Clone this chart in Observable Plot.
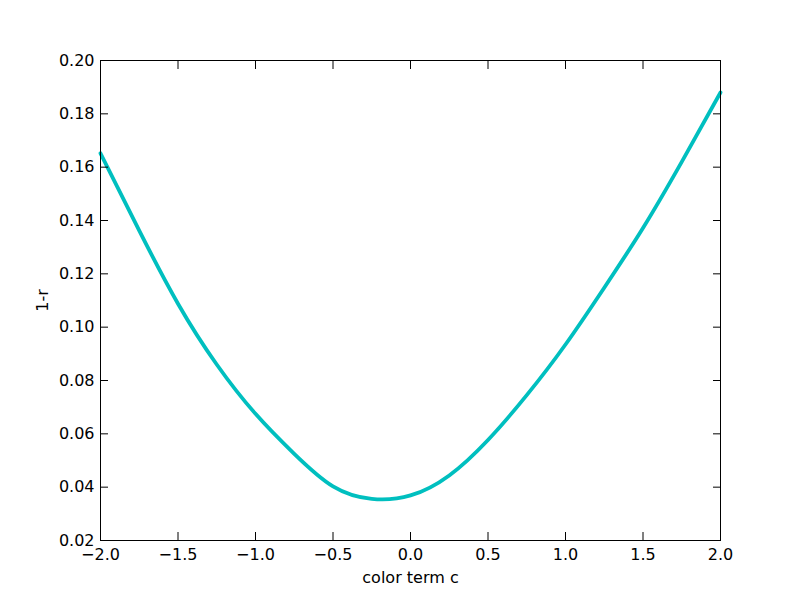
<!DOCTYPE html>
<html>
<head>
<meta charset="utf-8">
<script src="https://cdn.jsdelivr.net/npm/d3@7"></script>
<script src="https://cdn.jsdelivr.net/npm/@observablehq/plot@0.6"></script>
<style>
  html, body { margin: 0; padding: 0; background: #fff; }
  #chart { width: 800px; height: 600px; }
</style>
</head>
<body>
<div id="chart"></div>
<script>
// color term c values
const colorTerm = [-2.0, -1.75, -1.5, -1.25, -1.0, -0.75, -0.5, -0.25, 0.0, 0.25, 0.5, 0.75, 1.0, 1.25, 1.5, 1.75, 2.0];
// 1-r values
const oneMinusR = [0.1652, 0.1362, 0.1088, 0.0860, 0.0675, 0.0525, 0.0403, 0.0356, 0.0369, 0.0444, 0.0577, 0.0745, 0.0935, 0.1148, 0.1372, 0.1620, 0.1880];
const xTicks = [-2.0, -1.5, -1.0, -0.5, 0.0, 0.5, 1.0, 1.5, 2.0];
const yTicks = [0.02, 0.04, 0.06, 0.08, 0.10, 0.12, 0.14, 0.16, 0.18, 0.20];

const data = colorTerm.map((c, i) => ({c, r: oneMinusR[i]}));
const fmtX = d => d3.format(".1f")(d).replace("-", "\u2212");
const fmtY = d => d3.format(".2f")(d);
const blank = () => "";

const chart = Plot.plot({
  width: 800,
  height: 600,
  marginLeft: 100,
  marginRight: 80,
  marginTop: 60,
  marginBottom: 60,
  style: {fontFamily: "DejaVu Sans", fontSize: "16px", color: "#000", background: "#fff"},
  x: {domain: [-2, 2]},
  y: {domain: [0.02, 0.2]},
  marks: [
    Plot.line(data, {x: "c", y: "r", stroke: "#00BFBF", strokeWidth: 3.8, curve: "natural"}),
    Plot.frame({stroke: "#000", strokeWidth: 1}),
    // labels
    Plot.axisX({anchor: "bottom", ticks: xTicks, tickFormat: fmtX, tickSize: 0, tickPadding: 8,
      label: "color term c", labelAnchor: "center", labelArrow: "none", labelOffset: 42, fontSize: 16}),
    Plot.axisY({anchor: "left", ticks: yTicks, tickFormat: fmtY, tickSize: 0, tickPadding: 6,
      label: "1-r", labelAnchor: "center", labelArrow: "none", labelOffset: 64, fontSize: 16}),
    // inward ticks on all four sides
    Plot.axisX({anchor: "bottom", ticks: xTicks, tickFormat: blank, tickSize: -8, label: null}),
    Plot.axisX({anchor: "top", ticks: xTicks, tickFormat: blank, tickSize: -8, label: null}),
    Plot.axisY({anchor: "left", ticks: yTicks, tickFormat: blank, tickSize: -8, label: null}),
    Plot.axisY({anchor: "right", ticks: yTicks, tickFormat: blank, tickSize: -8, label: null})
  ]
});
document.getElementById("chart").appendChild(chart);
</script>
</body>
</html>
